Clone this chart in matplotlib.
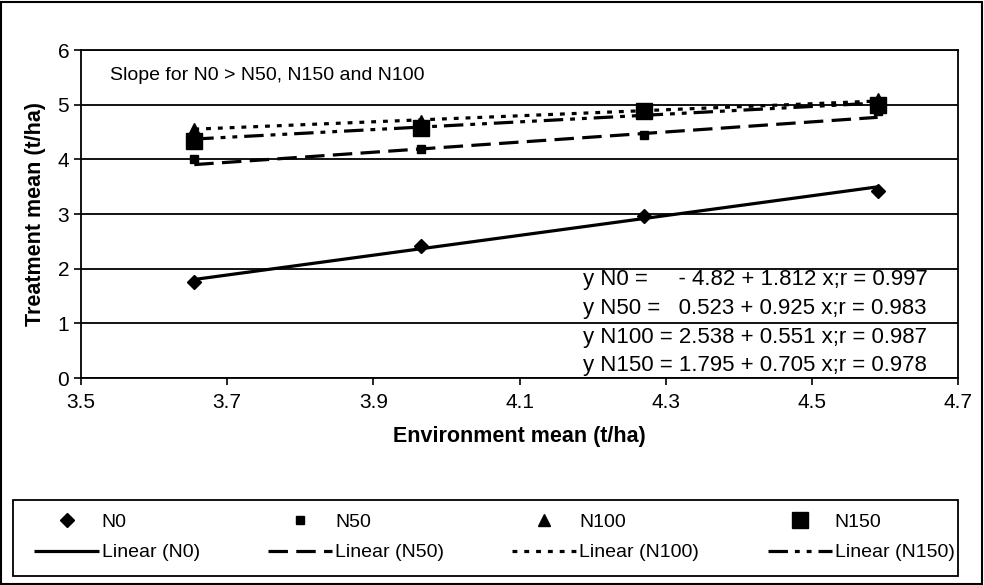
import matplotlib.pyplot as plt
from matplotlib.patches import Rectangle

plt.rcParams['font.family'] = ['Liberation Sans', 'DejaVu Sans']
plt.rcParams['lines.scale_dashes'] = False

# environment means (x) and treatment means per N level
env_mean = [3.655, 3.965, 4.27, 4.59]
n0 = [1.75, 2.42, 2.96, 3.43]
n50 = [4.01, 4.19, 4.44, 4.88]
n100 = [4.56, 4.70, 4.87, 5.10]
n150 = [4.33, 4.57, 4.88, 5.00]

series_names = ['N0', 'N50', 'N100', 'N150']
# regression coefficients printed on the chart
intercepts = [-4.82, 0.523, 2.538, 1.795]
slopes = [1.812, 0.925, 0.551, 0.705]
equations = [
    'y N0 =     - 4.82 + 1.812 x;r = 0.997',
    'y N50 =   0.523 + 0.925 x;r = 0.983',
    'y N100 = 2.538 + 0.551 x;r = 0.987',
    'y N150 = 1.795 + 0.705 x;r = 0.978',
]

markers = ['D', 's', '^', 's']
msizes = [7, 6, 9, 12]
dashes = [None, (14, 6), (3.5, 5), (14, 5, 3.5, 5, 3.5, 5)]

fig = plt.figure(figsize=(9.84, 5.85), dpi=100)
# outer chart border
fig.patches.append(Rectangle((0.001, 0.002), 0.997, 0.995, transform=fig.transFigure,
                             fill=False, edgecolor='black', linewidth=1.5))
ax = fig.add_axes([0.0823, 0.3538, 0.8913, 0.5607])

values = [n0, n50, n100, n150]
marker_handles = []
line_handles = []
for name, ys, m, ms in zip(series_names, values, markers, msizes):
    h, = ax.plot(env_mean, ys, linestyle='none', marker=m, markersize=ms,
                 color='black', zorder=3)
    marker_handles.append(h)

x0, x1 = env_mean[0], env_mean[-1]
for name, a, b, d in zip(series_names, intercepts, slopes, dashes):
    h, = ax.plot([x0, x1], [a + b * x0, a + b * x1], color='black', linewidth=2.3,
                 solid_capstyle='butt', zorder=4)
    if d is not None:
        h.set_dashes(d)
        h.set_dash_capstyle('butt')
    h.set_label('Linear (%s)' % name)
    line_handles.append(h)

ax.set_xlim(3.5, 4.7)
ax.set_ylim(0, 6)
ax.set_xticks([3.5, 3.7, 3.9, 4.1, 4.3, 4.5, 4.7])
ax.set_xticklabels(['3.5', '3.7', '3.9', '4.1', '4.3', '4.5', '4.7'])
ax.set_yticks(range(0, 7))
ax.tick_params(labelsize=15, direction='out', length=5, width=1.2, color='black')
ax.tick_params(axis='x', pad=6)
ax.yaxis.grid(True, color='black', linewidth=1.3)
ax.set_axisbelow(True)
for s in ax.spines.values():
    s.set_linewidth(1.3)

ax.set_xlabel('Environment mean (t/ha)', fontsize=15.5, fontweight='bold', labelpad=10)
ax.set_ylabel('Treatment mean (t/ha)', fontsize=15.5, fontweight='bold', labelpad=8)

ax.text(3.54, 5.53, 'Slope for N0 > N50, N150 and N100', fontsize=14, va='center')
for i, eq in enumerate(equations):
    ax.text(4.187, 1.81 - 0.53 * i, eq, fontsize=16, va='center')

# legend: markers on the first row, trend lines on the second
handles = []
labels = []
for mh, lh, name in zip(marker_handles, line_handles, series_names):
    handles += [mh, lh]
    labels += [name, lh.get_label()]
fig.patches.append(Rectangle((13 / 984, 9 / 585), 945 / 984, 76 / 585,
                             transform=fig.transFigure, fill=False,
                             edgecolor='black', linewidth=1.3))
fig.legend(handles, labels, ncol=4, loc='center', mode='expand',
           bbox_to_anchor=(0.035, 0.0812 - 0.05, 0.935, 0.1), fontsize=14,
           frameon=False, handlelength=3.3, handletextpad=0.15,
           borderaxespad=0, borderpad=0, labelspacing=0.65, columnspacing=1.0)

fig.savefig('out.png', dpi=100)
